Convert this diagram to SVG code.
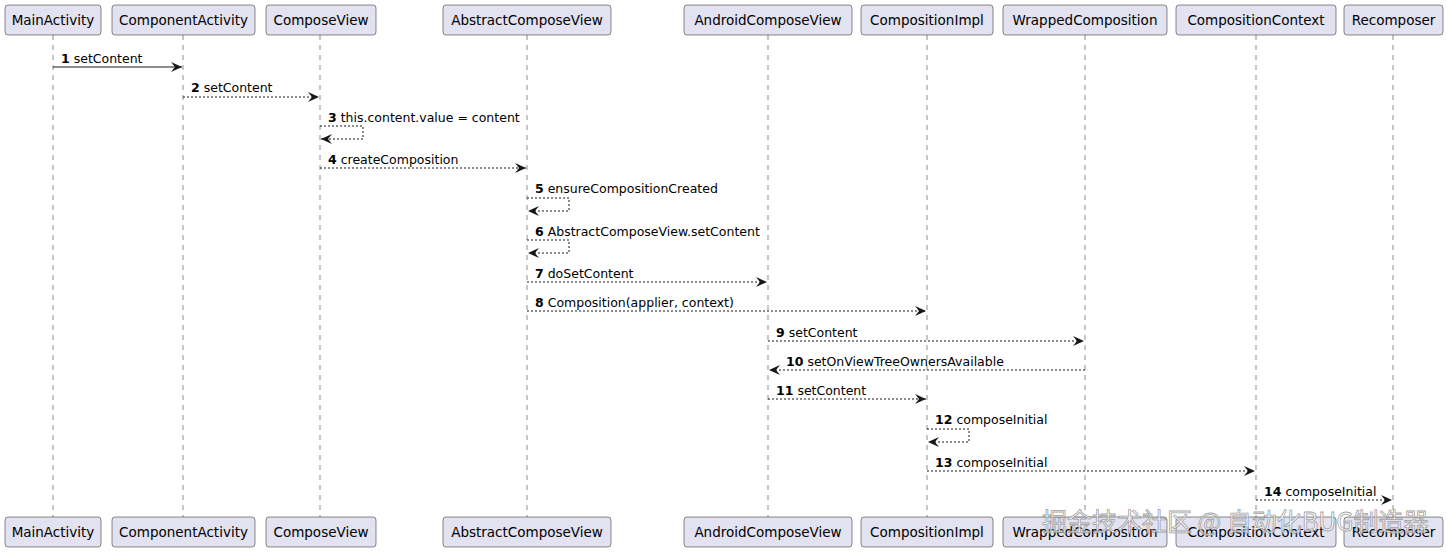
<svg xmlns="http://www.w3.org/2000/svg" width="1448" height="553" viewBox="0 0 1448 553">
<defs>
<style>
.p rect{fill:#E2E2F0;stroke:#181818;stroke-width:0.5}
.p text{font-family:"DejaVu Sans","Liberation Sans",sans-serif;font-size:13.5px;fill:#000;text-anchor:middle}
.life{stroke:#181818;stroke-width:0.5;stroke-dasharray:5,5;fill:none}
.m{stroke:#181818;stroke-width:1;fill:none;stroke-dasharray:2,2}
.s{stroke:#181818;stroke-width:1;fill:none}
.lbl{font-family:"DejaVu Sans","Liberation Sans",sans-serif;font-size:12.5px;fill:#000}
.lbl tspan.n{font-weight:bold}
.wm{font-family:"Noto Sans CJK SC","DejaVu Sans",sans-serif;font-size:25px;fill:#ffffff;fill-opacity:0.75;stroke:#888;stroke-width:0.8;stroke-opacity:0.8}
</style>
<marker id="ah" viewBox="0 0 12 10" refX="11" refY="5" markerWidth="12" markerHeight="10" markerUnits="userSpaceOnUse" orient="auto">
<polygon points="0,0 11,5 0,10 4,5" fill="#181818"/>
</marker>
</defs>
<g id="lifelines">
<line class="life" x1="53" y1="35" x2="53" y2="517"/>
<line class="life" x1="183" y1="35" x2="183" y2="517"/>
<line class="life" x1="320" y1="35" x2="320" y2="517"/>
<line class="life" x1="527" y1="35" x2="527" y2="517"/>
<line class="life" x1="768" y1="35" x2="768" y2="517"/>
<line class="life" x1="927" y1="35" x2="927" y2="517"/>
<line class="life" x1="1085" y1="35" x2="1085" y2="517"/>
<line class="life" x1="1256" y1="35" x2="1256" y2="517"/>
<line class="life" x1="1393" y1="35" x2="1393" y2="517"/>
</g>
<g id="MainActivity" class="p"><rect x="5" y="5" width="96" height="30" rx="3"/><text x="53" y="25">MainActivity</text><rect x="5" y="517" width="96" height="30" rx="3"/><text x="53" y="537">MainActivity</text></g>
<g id="ComponentActivity" class="p"><rect x="112" y="5" width="143" height="30" rx="3"/><text x="183.5" y="25">ComponentActivity</text><rect x="112" y="517" width="143" height="30" rx="3"/><text x="183.5" y="537">ComponentActivity</text></g>
<g id="ComposeView" class="p"><rect x="266" y="5" width="110" height="30" rx="3"/><text x="321" y="25">ComposeView</text><rect x="266" y="517" width="110" height="30" rx="3"/><text x="321" y="537">ComposeView</text></g>
<g id="AbstractComposeView" class="p"><rect x="443" y="5" width="168" height="30" rx="3"/><text x="527" y="25">AbstractComposeView</text><rect x="443" y="517" width="168" height="30" rx="3"/><text x="527" y="537">AbstractComposeView</text></g>
<g id="AndroidComposeView" class="p"><rect x="684" y="5" width="168" height="30" rx="3"/><text x="768" y="25">AndroidComposeView</text><rect x="684" y="517" width="168" height="30" rx="3"/><text x="768" y="537">AndroidComposeView</text></g>
<g id="CompositionImpl" class="p"><rect x="861" y="5" width="132" height="30" rx="3"/><text x="927" y="25">CompositionImpl</text><rect x="861" y="517" width="132" height="30" rx="3"/><text x="927" y="537">CompositionImpl</text></g>
<g id="WrappedComposition" class="p"><rect x="1003" y="5" width="164" height="30" rx="3"/><text x="1085" y="25">WrappedComposition</text><rect x="1003" y="517" width="164" height="30" rx="3"/><text x="1085" y="537">WrappedComposition</text></g>
<g id="CompositionContext" class="p"><rect x="1176" y="5" width="160" height="30" rx="3"/><text x="1256" y="25">CompositionContext</text><rect x="1176" y="517" width="160" height="30" rx="3"/><text x="1256" y="537">CompositionContext</text></g>
<g id="Recomposer" class="p"><rect x="1344" y="5" width="99" height="30" rx="3"/><text x="1393.5" y="25">Recomposer</text><rect x="1344" y="517" width="99" height="30" rx="3"/><text x="1393.5" y="537">Recomposer</text></g>
<g id="connectors">
<line class="s" x1="53" y1="67" x2="182" y2="67" marker-end="url(#ah)"/>
<text class="lbl" x="61" y="63"><tspan class="n">1</tspan> setContent</text>
<line class="m" x1="183" y1="97" x2="319" y2="97" marker-end="url(#ah)"/>
<text class="lbl" x="191" y="92"><tspan class="n">2</tspan> setContent</text>
<polyline class="m" points="320,126 363,126 363,139 321,139" marker-end="url(#ah)"/>
<text class="lbl" x="328" y="122"><tspan class="n">3</tspan> this.content.value = content</text>
<line class="m" x1="320" y1="168" x2="526" y2="168" marker-end="url(#ah)"/>
<text class="lbl" x="328" y="164"><tspan class="n">4</tspan> createComposition</text>
<polyline class="m" points="527,198 569,198 569,211 528,211" marker-end="url(#ah)"/>
<text class="lbl" x="535" y="193"><tspan class="n">5</tspan> ensureCompositionCreated</text>
<polyline class="m" points="527,240 569,240 569,253 528,253" marker-end="url(#ah)"/>
<text class="lbl" x="535" y="236"><tspan class="n">6</tspan> AbstractComposeView.setContent</text>
<line class="m" x1="527" y1="282" x2="767" y2="282" marker-end="url(#ah)"/>
<text class="lbl" x="535" y="278"><tspan class="n">7</tspan> doSetContent</text>
<line class="m" x1="527" y1="311" x2="926" y2="311" marker-end="url(#ah)"/>
<text class="lbl" x="535" y="307"><tspan class="n">8</tspan> Composition(applier, context)</text>
<line class="m" x1="768" y1="341" x2="1084" y2="341" marker-end="url(#ah)"/>
<text class="lbl" x="776" y="337"><tspan class="n">9</tspan> setContent</text>
<line class="m" x1="1085" y1="370" x2="769" y2="370" marker-end="url(#ah)"/>
<text class="lbl" x="786" y="366"><tspan class="n">10</tspan> setOnViewTreeOwnersAvailable</text>
<line class="m" x1="768" y1="399" x2="926" y2="399" marker-end="url(#ah)"/>
<text class="lbl" x="776" y="395"><tspan class="n">11</tspan> setContent</text>
<polyline class="m" points="927,429 969,429 969,442 928,442" marker-end="url(#ah)"/>
<text class="lbl" x="935" y="424"><tspan class="n">12</tspan> composeInitial</text>
<line class="m" x1="927" y1="471" x2="1255" y2="471" marker-end="url(#ah)"/>
<text class="lbl" x="935" y="467"><tspan class="n">13</tspan> composeInitial</text>
<line class="m" x1="1256" y1="500" x2="1392" y2="500" marker-end="url(#ah)"/>
<text class="lbl" x="1264" y="496"><tspan class="n">14</tspan> composeInitial</text>
</g>
<text class="wm" x="1042" y="531">掘金技术社区 @ 自动化BUG制造器</text>
</svg>
